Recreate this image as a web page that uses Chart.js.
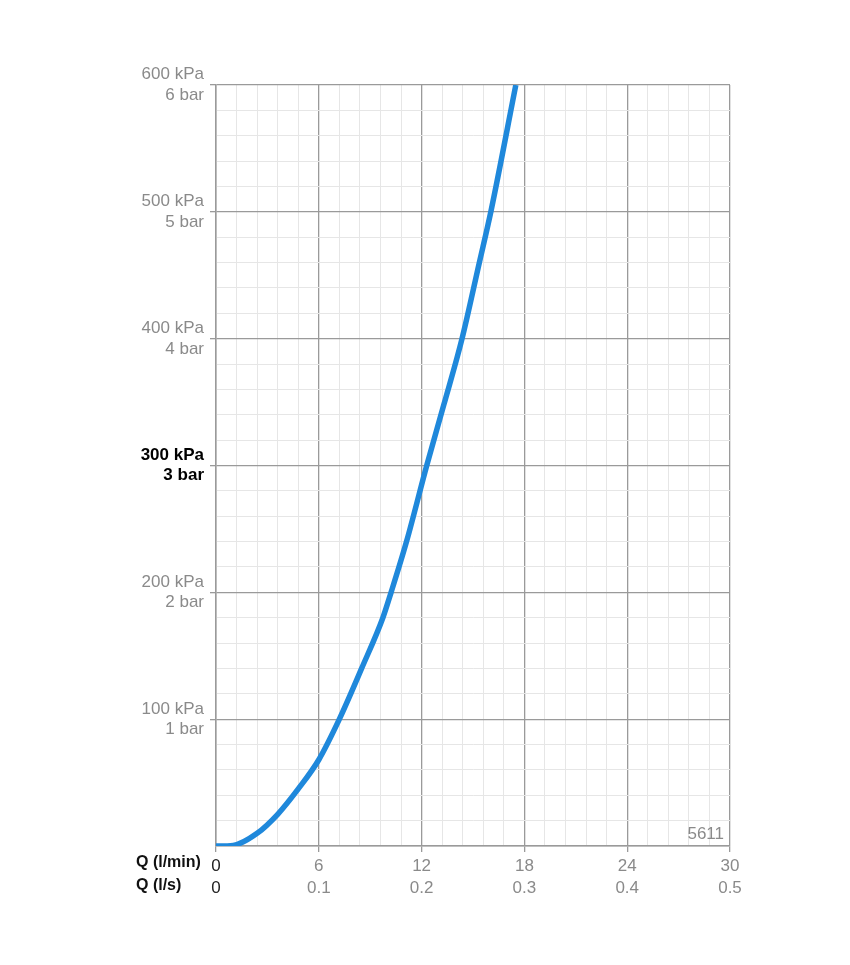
<!DOCTYPE html>
<html lang="en">
<head>
    <meta charset="UTF-8">
    <title>Pressure loss 5611</title>
    <script src="https://cdn.jsdelivr.net/npm/chart.js@4.4.0/dist/chart.umd.min.js"></script>
    <style>
        body {
            margin: 0;
            background: #ffffff;
            font-family: "Liberation Sans", Arial, sans-serif;
        }
    </style>
</head>
<body>
    <canvas id="lossChart" width="850" height="965"></canvas>

    <script>
        // flow in l/min vs pressure loss in kPa
        const flowLpm = [0, 1.0, 2.4, 3.6, 4.8, 6.0, 7.2, 8.5, 9.74, 10.22, 11.12, 12.3, 13.3, 14.36, 15.37, 16.04, 17.5];
        const lossKpa = [0, 0.5, 10, 25, 45, 68, 100, 140, 180, 200, 240, 300, 348, 400, 460, 500, 600];

        const xGrid = [0, 1.2, 2.4, 3.6, 4.8, 6, 7.2, 8.4, 9.6, 10.8, 12, 13.2, 14.4, 15.6, 16.8, 18, 19.2, 20.4, 21.6, 22.8, 24, 25.2, 26.4, 27.6, 28.8, 30];
        const xMajor = [0, 6, 12, 18, 24, 30];
        const xLabelsLpm = ['0', '6', '12', '18', '24', '30'];
        const xLabelsLs = ['0', '0.1', '0.2', '0.3', '0.4', '0.5'];

        const yMajor = [100, 200, 300, 400, 500, 600];
        const yLabelsKpa = ['100 kPa', '200 kPa', '300 kPa', '400 kPa', '500 kPa', '600 kPa'];
        const yLabelsBar = ['1 bar', '2 bar', '3 bar', '4 bar', '5 bar', '6 bar'];

        const chartCode = '5611';

        const MAJOR = '#9a9a9a';
        const MINOR = '#e6e6e6';
        const LABEL = '#8a8a8a';
        const FONT = '"Liberation Sans", Arial, sans-serif';

        const near = (a, b) => Math.abs(a - b) < 0.001;
        const tickVal = c => (c && c.tick ? c.tick.value : NaN);
        const isMajorX = c => xMajor.some(m => near(m, tickVal(c)));
        const isMajorY = c => tickVal(c) % 100 === 0;

        // axis names on the left of the x labels, and the chart code
        const sideLabels = {
            id: 'sideLabels',
            afterDraw(chart) {
                const c = chart.ctx;
                const area = chart.chartArea;
                c.save();
                c.fillStyle = '#111';
                c.font = 'bold 16px ' + FONT;
                c.textAlign = 'left';
                c.textBaseline = 'middle';
                c.fillText('Q (l/min)', 136, area.bottom + 17);
                c.fillText('Q (l/s)', 136, area.bottom + 40);
                c.fillStyle = LABEL;
                c.textAlign = 'right';
                c.font = '17px ' + FONT;
                c.fillText(chartCode, area.right - 6, area.bottom - 12);
                c.restore();
            }
        };

        const ctx = document.getElementById('lossChart').getContext('2d');
        new Chart(ctx, {
            type: 'scatter',
            data: {
                datasets: [{
                    data: flowLpm.map((q, i) => ({ x: q, y: lossKpa[i] })),
                    showLine: true,
                    borderColor: '#1f88db',
                    borderWidth: 5.5,
                    pointRadius: 0,
                    cubicInterpolationMode: 'monotone',
                    borderCapStyle: 'butt'
                }]
            },
            options: {
                responsive: false,
                animation: false,
                devicePixelRatio: 1,
                layout: {
                    padding: { left: 0, top: 85, right: 120, bottom: 59 }
                },
                plugins: {
                    legend: { display: false },
                    tooltip: { enabled: false }
                },
                scales: {
                    x: {
                        type: 'linear',
                        min: 0,
                        max: 30,
                        afterBuildTicks: s => { s.ticks = xGrid.map(v => ({ value: v })); },
                        afterFit: s => { s.height = 60; },
                        border: { color: MAJOR, width: 1.5 },
                        grid: {
                            color: c => isMajorX(c) ? MAJOR : MINOR,
                            lineWidth: c => isMajorX(c) ? 1.3 : 1,
                            tickColor: c => isMajorX(c) ? MAJOR : 'rgba(0,0,0,0)',
                            tickLength: 6
                        },
                        ticks: {
                            autoSkip: false,
                            maxRotation: 0,
                            padding: 3,
                            color: c => near(tickVal(c), 0) ? '#222' : LABEL,
                            font: { size: 17, family: FONT, lineHeight: 1.3 },
                            callback: v => {
                                const i = xMajor.findIndex(m => near(m, v));
                                return i < 0 ? '' : [xLabelsLpm[i], xLabelsLs[i]];
                            }
                        }
                    },
                    y: {
                        type: 'linear',
                        min: 0,
                        max: 600,
                        afterFit: s => { s.width = 216; },
                        border: { color: MAJOR, width: 1.5 },
                        grid: {
                            color: c => isMajorY(c) ? MAJOR : MINOR,
                            lineWidth: c => isMajorY(c) ? 1.3 : 1,
                            tickColor: c => isMajorY(c) && tickVal(c) > 0 ? MAJOR : 'rgba(0,0,0,0)',
                            tickLength: 6
                        },
                        ticks: {
                            stepSize: 20,
                            autoSkip: false,
                            padding: 6,
                            color: c => tickVal(c) === 300 ? '#000' : LABEL,
                            font: c => ({
                                size: 17,
                                family: FONT,
                                weight: tickVal(c) === 300 ? 'bold' : 'normal',
                                lineHeight: 1.2
                            }),
                            callback: v => {
                                const i = yMajor.indexOf(v);
                                return i < 0 ? '' : [yLabelsKpa[i], yLabelsBar[i]];
                            }
                        }
                    }
                }
            },
            plugins: [sideLabels]
        });
    </script>
</body>
</html>
